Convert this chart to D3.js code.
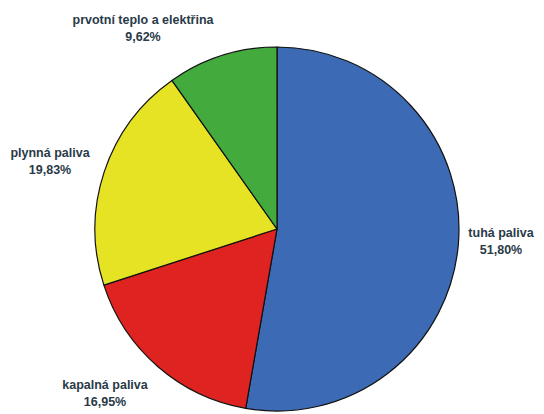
<!DOCTYPE html>
<html>
<head>
<meta charset="utf-8">
<script src="https://cdn.jsdelivr.net/npm/d3@7"></script>
<style>
body { margin: 0; background: #fff; }
</style>
</head>
<body>
<script>
// data
var categories = ["tuhá paliva", "kapalná paliva", "plynná paliva", "prvotní teplo a elektřina"];
var values = [51.80, 16.95, 19.83, 9.62];
var percentLabels = ["51,80%", "16,95%", "19,83%", "9,62%"];
var colors = ["#3c6ab4", "#de2320", "#e6e325", "#43ab3e"];

var width = 544, height = 414;
var cx = 277, cy = 229, radius = 182;

// where each label sits (pixels from pie centre)
var labelOffset = [[224, 8], [-172, 160], [-227, -72], [-134, -205]];

var svg = d3.select('body')
        .append("svg")
        .attr("width", width)
        .attr("height", height)
        .style("background", "#fff");

var pie = d3.pie().sort(null);
var arc = d3.arc().innerRadius(0).outerRadius(radius);

var g = svg.append("g")
        .attr("transform", "translate(" + cx + "," + cy + ")");

g.selectAll("path")
        .data(pie(values))
        .enter()
        .append("path")
        .attr("d", arc)
        .attr("fill", function(d, i) {
            return colors[i];
        })
        .attr("stroke", "#111")
        .attr("stroke-width", 1.2)
        .attr("stroke-linejoin", "round");

var labels = g.selectAll("text")
        .data(categories)
        .enter()
        .append("text")
        .attr("text-anchor", "middle")
        .attr("font-family", "Liberation Sans, Arial, sans-serif")
        .attr("font-weight", "bold")
        .attr("font-size", "12.5px")
        .attr("fill", "#2a3a48")
        .attr("transform", function(d, i) {
            return "translate(" + labelOffset[i][0] + "," + labelOffset[i][1] + ")";
        });

labels.append("tspan")
        .attr("x", 0)
        .attr("y", 0)
        .text(function(d) {
            return d;
        });

labels.append("tspan")
        .attr("x", 0)
        .attr("y", 17)
        .text(function(d, i) {
            return percentLabels[i];
        });
</script>
</body>
</html>
